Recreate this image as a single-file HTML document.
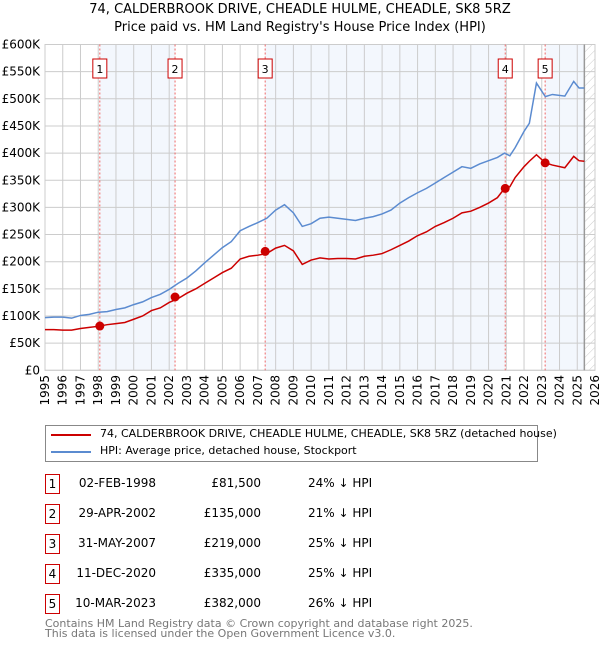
<!DOCTYPE html>
<html><head><meta charset="utf-8">
<style>
body{margin:0;background:#fff;font-family:"DejaVu Sans","Liberation Sans",sans-serif;}
#wrap{position:relative;width:600px;height:650px;overflow:hidden;}
.t{position:absolute;font-size:12px;color:#000;white-space:nowrap;}
.box{position:absolute;width:13px;height:18px;border:1px solid #c00;font-size:12px;text-align:center;line-height:18px;}
</style></head><body>
<div id="wrap">
<div class="t" style="left:0;width:600px;text-align:center;top:2px;font-size:13px">74, CALDERBROOK DRIVE, CHEADLE HULME, CHEADLE, SK8 5RZ</div>
<div class="t" style="left:0;width:600px;text-align:center;top:20px;font-size:13px">Price paid vs. HM Land Registry's House Price Index (HPI)</div>
<svg id="chart" width="600" height="410" style="position:absolute;left:0;top:0" font-family="DejaVu Sans, Liberation Sans, sans-serif"></svg>
<div style="position:absolute;left:45px;top:425px;width:491px;height:35px;border:1px solid #888;">
 <div><div style="position:absolute;left:5px;top:8px;width:40px;height:2px;background:#c00"></div><div class="t" style="left:54px;top:1px;font-size:11px">74, CALDERBROOK DRIVE, CHEADLE HULME, CHEADLE, SK8 5RZ (detached house)</div></div>
 <div><div style="position:absolute;left:5px;top:25px;width:40px;height:2px;background:#5b8bd0"></div><div class="t" style="left:54px;top:18px;font-size:11px">HPI: Average price, detached house, Stockport</div></div>
</div>
<div id="tbl"></div>
<div class="t" style="left:45px;top:619px;color:#777;font-size:11px;line-height:10px">Contains HM Land Registry data © Crown copyright and database right 2025.<br>This data is licensed under the Open Government Licence v3.0.</div>
</div>
<script>
const years=[1995,1995.5,1996,1996.5,1997,1997.5,1998,1998.5,1999,1999.5,2000,2000.5,2001,2001.5,2002,2002.5,2003,2003.5,2004,2004.5,2005,2005.5,2006,2006.5,2007,2007.5,2008,2008.5,2009,2009.5,2010,2010.5,2011,2011.5,2012,2012.5,2013,2013.5,2014,2014.5,2015,2015.5,2016,2016.5,2017,2017.5,2018,2018.5,2019,2019.5,2020,2020.5,2020.9,2021.2,2021.5,2022,2022.3,2022.7,2023.2,2023.6,2024.3,2024.8,2025.1,2025.4];
const hpiValues=[97,98,98,96,101,103,107,108,112,115,121,126,134,140,149,160,170,183,198,212,226,237,257,265,272,280,295,305,290,265,270,280,282,280,278,276,280,283,288,295,308,318,327,335,345,355,365,375,372,380,386,392,400,395,410,440,455,529,504,508,505,532,520,520];
const priceValues=[75,75,74,74,77,79,81,84,86,88,94,100,110,115,125,132,142,150,160,170,180,188,205,210,212,215,225,230,220,195,203,207,205,206,206,205,210,212,215,222,230,238,248,255,265,272,280,290,293,300,308,318,335,338,355,375,385,397,382,378,373,394,386,385];
const saleYears=[1998.09,2002.33,2007.41,2020.94,2023.19];
const salePrices=[81.5,135,219,335,382];
const saleDates=["02-FEB-1998","29-APR-2002","31-MAY-2007","11-DEC-2020","10-MAR-2023"];
const salePriceLabels=["£81,500","£135,000","£219,000","£335,000","£382,000"];
const salePct=["24% ↓ HPI","21% ↓ HPI","25% ↓ HPI","25% ↓ HPI","26% ↓ HPI"];
const yTicks=[0,50,100,150,200,250,300,350,400,450,500,550,600];
const yTickLabels=["£0","£50K","£100K","£150K","£200K","£250K","£300K","£350K","£400K","£450K","£500K","£550K","£600K"];
const xTicks=[1995,1996,1997,1998,1999,2000,2001,2002,2003,2004,2005,2006,2007,2008,2009,2010,2011,2012,2013,2014,2015,2016,2017,2018,2019,2020,2021,2022,2023,2024,2025,2026];
const dataEnd=2025.4;

const X0=45,X1=595,Y0=370.3,Y1=44.5;
const xs=y=>X0+(y-1995)/(2026-1995)*(X1-X0);
const ys=v=>Y0-v/600*(Y0-Y1);
const NS="http://www.w3.org/2000/svg";
const svg=document.getElementById('chart');
function mk(tag,attrs,parent){const e=document.createElementNS(NS,tag);for(const k in attrs)e.setAttribute(k,attrs[k]);(parent||svg).appendChild(e);return e;}
const defs=mk('defs',{});
const pat=mk('pattern',{id:'hatch',width:6,height:6,patternUnits:'userSpaceOnUse',patternTransform:'rotate(45)'},defs);
mk('line',{x1:0,y1:0,x2:0,y2:6,stroke:'#ccc','stroke-width':1},pat);
const shades=[[saleYears[0],saleYears[1]],[saleYears[2],saleYears[3]],[saleYears[4],dataEnd]];
shades.forEach((s,i)=>{const r=mk('rect',{x:xs(s[0]),y:Y1,width:xs(s[1])-xs(s[0]),height:Y0-Y1,fill:'#eef3fc',opacity:0.7});

});
const hr=mk('rect',{x:xs(dataEnd),y:Y1,width:X1-xs(dataEnd),height:Y0-Y1,fill:'url(#hatch)'});


yTicks.forEach((v,i)=>{mk('line',{x1:X0,x2:X1,y1:ys(v),y2:ys(v),stroke:'#ccc','stroke-width':1});
const t=mk('text',{x:40,y:ys(v)+4,'text-anchor':'end','font-size':12});t.textContent=yTickLabels[i];

});
xTicks.forEach(y=>{mk('line',{x1:xs(y),x2:xs(y),y1:Y1,y2:Y0,stroke:'#ccc','stroke-width':1});
const tx=xs(y)+4,ty=375;
const t=mk('text',{x:tx,y:ty,'text-anchor':'end','font-size':12,transform:'rotate(-90 '+tx+' '+ty+')'});t.textContent=y;

});
mk('rect',{x:X0,y:Y1,width:X1-X0,height:Y0-Y1,fill:'none',stroke:'#ccc'});
mk('line',{x1:xs(dataEnd),x2:xs(dataEnd),y1:Y1,y2:Y0,stroke:'#999','stroke-width':1.5});
saleYears.forEach((y,i)=>{const l=mk('line',{x1:xs(y),x2:xs(y),y1:Y1,y2:Y0,stroke:'#e66','stroke-width':1,'stroke-dasharray':'2,2'});


const g=mk('g',{});


mk('rect',{x:xs(y)-7,y:59,width:14,height:19,fill:'#fff',stroke:'#c00'},g);
const t=mk('text',{x:xs(y),y:73,'text-anchor':'middle','font-size':11},g);t.textContent=i+1;});
const hp=mk('polyline',{points:years.map((y,i)=>xs(y)+','+ys(hpiValues[i])).join(' '),fill:'none',stroke:'#5b8bd0','stroke-width':1.5});


const pp=mk('polyline',{points:years.map((y,i)=>xs(y)+','+ys(priceValues[i])).join(' '),fill:'none',stroke:'#c00','stroke-width':1.5});


saleYears.forEach((y,i)=>{const c=mk('circle',{cx:xs(y),cy:ys(salePrices[i]),r:4.5,fill:'#c00'});

});
const tbl=document.getElementById('tbl');
saleDates.forEach((d,i)=>{const top=474+i*30;
const row=document.createElement('div');


row.innerHTML='<div class="box" style="left:45px;top:'+top+'px">'+(i+1)+'</div>'+
'<div class="t" style="left:56px;width:100px;text-align:right;top:'+(top+2)+'px">'+d+'</div>'+
'<div class="t" style="left:161px;width:100px;text-align:right;top:'+(top+2)+'px">'+salePriceLabels[i]+'</div>'+
'<div class="t" style="left:308px;top:'+(top+2)+'px">'+salePct[i]+'</div>';
tbl.appendChild(row);});
</script>
</body></html>
